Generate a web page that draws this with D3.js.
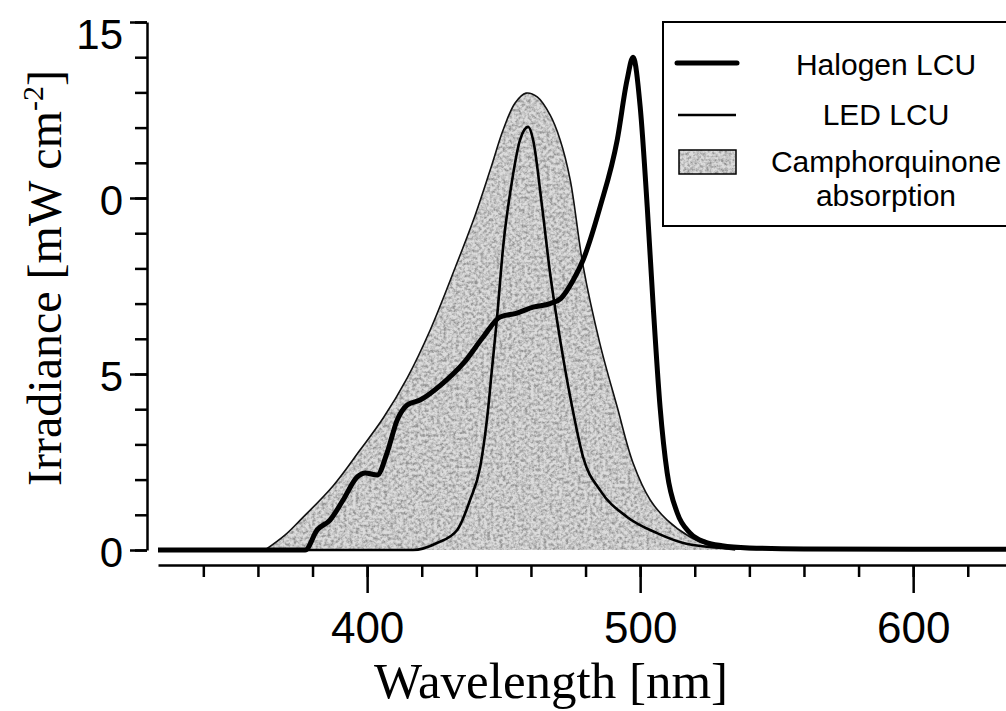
<!DOCTYPE html>
<html>
<head>
<meta charset="utf-8">
<script src="https://cdnjs.cloudflare.com/ajax/libs/d3/7.8.5/d3.min.js"></script>
<style>
  html, body { margin: 0; padding: 0; background: #fff; }
  #main-container { width: 1006px; height: 711px; }
</style>
</head>
<body>
<div id="main-container"></div>
<script>
// Halogen LCU spectrum (wavelength nm / irradiance)
var haloNm  = [323.4, 377.3, 381.7, 386.4, 391.2, 396.3, 399.3, 403.7, 407.3, 411, 414.7, 419.4, 427.8,
               435.2, 442.5, 448.7, 454.9, 460.8, 467, 471, 475.5, 479.1, 485.3, 491.6, 495.2, 497.4,
               500, 502.6, 504.8, 507.3, 509.9, 513.6, 518.3, 524, 530, 540, 560, 600, 634];
var haloVal = [0, 0, 0.57, 0.85, 1.42, 2.07, 2.19, 2.13, 2.76, 3.69, 4.12, 4.26, 4.74,
               5.3, 6.05, 6.62, 6.73, 6.9, 7.0, 7.15, 7.67, 8.24, 9.74, 11.65, 13.35, 14.0,
               12.6, 9.74, 6.9, 4.06, 2.19, 1.05, 0.48, 0.22, 0.12, 0.06, 0.03, 0.02, 0.02];

// LED LCU spectrum
var ledNm  = [323.4, 416.8, 425.6, 433, 437.7, 441.4, 444, 445.8, 447.6, 449.8, 453.1, 456, 459,
              460.8, 464.1, 467, 470.7, 475.1, 479.1, 485.3, 495.2, 506.2, 515.8, 526, 540, 634];
var ledVal = [0, 0, 0.2, 0.57, 1.42, 2.36, 3.78, 5.2, 6.62, 8.6, 10.5, 11.65, 12.02,
              11.65, 9.74, 7.87, 5.97, 4.06, 2.64, 1.7, 0.94, 0.48, 0.2, 0.08, 0.03, 0.02];

// Camphorquinone absorption envelope
var absNm  = [362.6, 370, 375.5, 387.5, 397.4, 405.9, 414.7, 423.1, 432.2, 439.6, 445.1, 449.8, 454.2,
              458.2, 462.3, 467, 470.7, 474.4, 479.1, 485.3, 491.6, 497.4, 503.7, 509.9, 518.3, 525.6, 534.8];
var absVal = [0, 0.43, 0.85, 1.82, 2.84, 3.75, 4.89, 6.25, 8.01, 9.52, 10.8, 11.93, 12.7,
              12.98, 12.87, 12.36, 11.65, 10.51, 8.07, 5.85, 4.06, 2.47, 1.42, 0.85, 0.37, 0.12, 0];

var yTicks      = [0, 5, 10, 15];
var yTickLabels = ["0", "5", "0", "15"];   // as printed (leading "1" lost in the scan)
var xTicks      = [400, 500, 600];
var xTickLabels = ["400", "500", "600"];
var legendNames = ["Halogen LCU", "LED LCU", "Camphorquinone", "absorption"];

function pairs(xs, ys) {
    return xs.map(function(v, i) { return [v, ys[i]]; });
}

var width = 1006, height = 711;

var svg = d3.select("div#main-container")
            .append("svg")
            .attr("width", width)
            .attr("height", height);

var x = d3.scaleLinear().domain([323.4, 634]).range([158, 1006]);
var y = d3.scaleLinear().domain([0, 15]).range([550, 22]);

// mottled stipple for the absorption band
var defs = svg.append("defs");
var grain = defs.append("filter").attr("id", "grain")
    .attr("x", 0).attr("y", 0).attr("width", "100%").attr("height", "100%");
grain.append("feTurbulence").attr("type", "fractalNoise").attr("baseFrequency", 0.32)
    .attr("numOctaves", 3).attr("seed", 11).attr("result", "noise");
grain.append("feColorMatrix").attr("in", "noise").attr("type", "matrix")
    .attr("values", "0 0 0 0 0.3  0 0 0 0 0.3  0 0 0 0 0.3  2.4 0 0 0 -0.85").attr("result", "dots");
grain.append("feComposite").attr("in", "dots").attr("in2", "SourceGraphic")
    .attr("operator", "in").attr("result", "clipped");
var merge = grain.append("feMerge");
merge.append("feMergeNode").attr("in", "SourceGraphic");
merge.append("feMergeNode").attr("in", "clipped");

var line = d3.line()
    .x(function(d) { return x(d[0]); })
    .y(function(d) { return y(d[1]); })
    .curve(d3.curveMonotoneX);

var smoothLine = d3.line()
    .x(function(d) { return x(d[0]); })
    .y(function(d) { return y(d[1]); })
    .curve(d3.curveCatmullRom.alpha(0.5));

var area = d3.area()
    .x(function(d) { return x(d[0]); })
    .y0(y(0))
    .y1(function(d) { return y(d[1]); })
    .curve(d3.curveCatmullRom.alpha(0.5));

// absorption band, filled then outlined
svg.append("path")
    .datum(pairs(absNm, absVal))
    .attr("d", area)
    .attr("fill", "#dcdcdc")
    .attr("filter", "url(#grain)");
svg.append("path")
    .datum(pairs(absNm, absVal))
    .attr("d", smoothLine)
    .attr("fill", "none")
    .attr("stroke", "#111")
    .attr("stroke-width", 1.6);

// LED LCU
svg.append("path")
    .datum(pairs(ledNm, ledVal))
    .attr("d", line)
    .attr("fill", "none")
    .attr("stroke", "#000")
    .attr("stroke-width", 2.6);

// Halogen LCU
svg.append("path")
    .datum(pairs(haloNm, haloVal))
    .attr("d", line)
    .attr("fill", "none")
    .attr("stroke", "#000")
    .attr("stroke-width", 5)
    .attr("stroke-linejoin", "round");

// y axis: minor ticks every unit, majors with labels
var yMinor = svg.append("g")
    .attr("transform", "translate(147,0)")
    .call(d3.axisLeft(y).tickValues(d3.range(0, 16)).tickSize(12).tickSizeOuter(0).tickFormat(""));
var yMajor = svg.append("g")
    .attr("transform", "translate(147,0)")
    .call(d3.axisLeft(y).tickValues(yTicks).tickSize(17).tickSizeOuter(0).tickPadding(7)
        .tickFormat(function(d, i) { return yTickLabels[i]; }));
yMajor.select(".domain").remove();

// x axis sits a little below the zero line
var xMinor = svg.append("g")
    .attr("transform", "translate(0,565)")
    .call(d3.axisBottom(x).tickValues(d3.range(340, 621, 20)).tickSize(12).tickSizeOuter(0).tickFormat(""));
var xMajor = svg.append("g")
    .attr("transform", "translate(0,565)")
    .call(d3.axisBottom(x).tickValues(xTicks).tickSize(28).tickSizeOuter(0).tickPadding(19)
        .tickFormat(function(d, i) { return xTickLabels[i]; }));
xMajor.select(".domain").remove();

svg.selectAll(".domain, .tick line")
    .attr("stroke", "#000")
    .attr("stroke-width", 2.5);

yMajor.selectAll("text")
    .attr("font-family", "Liberation Sans, Arial, sans-serif")
    .attr("font-size", "42px")
    .attr("fill", "#000")
    .attr("dy", function(d) { return d === 15 ? "0.62em" : "0.4em"; });
xMajor.selectAll("text")
    .attr("font-family", "Liberation Sans, Arial, sans-serif")
    .attr("font-size", "44px")
    .attr("fill", "#000");

// axis titles
var yTitle = svg.append("text")
    .attr("transform", "translate(61,278) rotate(-90)")
    .attr("text-anchor", "middle")
    .attr("font-family", "Liberation Serif, Times New Roman, serif")
    .attr("font-size", "48px")
    .attr("fill", "#000");
yTitle.append("tspan").text("Irradiance [mW cm");
yTitle.append("tspan").attr("font-size", "30px").attr("dy", "-18").text("-2");
yTitle.append("tspan").attr("dy", "18").text("]");

svg.append("text")
    .attr("x", 551)
    .attr("y", 698)
    .attr("text-anchor", "middle")
    .attr("font-family", "Liberation Serif, Times New Roman, serif")
    .attr("font-size", "51px")
    .attr("fill", "#000")
    .text("Wavelength [nm]");

// legend
var legend = svg.append("g");
legend.append("rect")
    .attr("x", 663).attr("y", 22)
    .attr("width", 360).attr("height", 204)
    .attr("fill", "#fff")
    .attr("stroke", "#000")
    .attr("stroke-width", 2);
legend.append("line")
    .attr("x1", 677).attr("x2", 737).attr("y1", 63).attr("y2", 63)
    .attr("stroke", "#000").attr("stroke-width", 5).attr("stroke-linecap", "round");
legend.append("line")
    .attr("x1", 678).attr("x2", 736).attr("y1", 115).attr("y2", 115)
    .attr("stroke", "#000").attr("stroke-width", 2.6);
legend.append("rect")
    .attr("x", 679).attr("y", 150).attr("width", 57).attr("height", 24)
    .attr("fill", "#dcdcdc")
    .attr("filter", "url(#grain)");
legend.append("rect")
    .attr("x", 679).attr("y", 150).attr("width", 57).attr("height", 24)
    .attr("fill", "none").attr("stroke", "#000").attr("stroke-width", 1.5);

var legendY = [75, 125, 172, 206];
legend.selectAll("text.entry")
    .data(legendNames)
    .enter()
    .append("text")
    .attr("class", "entry")
    .attr("x", 886)
    .attr("y", function(d, i) { return legendY[i]; })
    .attr("text-anchor", "middle")
    .attr("font-family", "Liberation Sans, Arial, sans-serif")
    .attr("font-size", "30px")
    .attr("fill", "#000")
    .text(function(d) { return d; });
</script>
</body>
</html>
